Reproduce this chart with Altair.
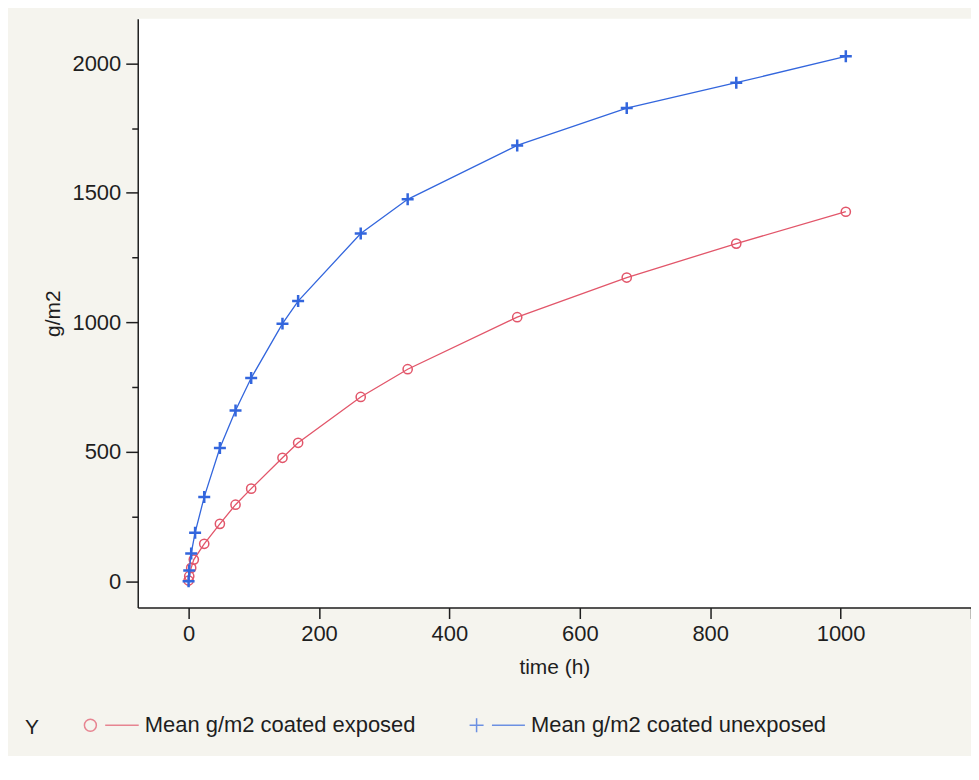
import altair as alt
import pandas as pd

# ---- data ----
series_names = ["Mean g/m2 coated exposed", "Mean g/m2 coated unexposed"]

time_exposed = [0, 1, 4, 8, 24, 48, 72, 96, 144, 168, 264, 336, 504, 672, 840, 1008]
g_exposed = [3, 20, 52, 84, 145, 222, 296, 358, 477, 535, 712, 819, 1020, 1173, 1304, 1427]

time_unexposed = [0, 1, 4, 10, 24, 48, 72, 96, 144, 168, 264, 336, 504, 672, 840, 1008]
g_unexposed = [0, 42, 108, 188, 326, 515, 660, 785, 995, 1082, 1343, 1475, 1683, 1827, 1925, 2027]

x_ticks = [0, 200, 400, 600, 800, 1000, 1200]
y_ticks = [0, 250, 500, 750, 1000, 1250, 1500, 1750, 2000]

RED = "#e2566a"
BLUE = "#3366dd"
TEXT = "#1e1e1e"
FONT = "Liberation Sans"

df = pd.concat([
    pd.DataFrame({"time": time_exposed, "g": g_exposed, "series": series_names[0]}),
    pd.DataFrame({"time": time_unexposed, "g": g_unexposed, "series": series_names[1]}),
], ignore_index=True)

# symbol paths (unit square -1..1)
PLUS = "M-1,0L1,0M0,-1L0,1"
LEG_CIRCLE = "M-0.944,0A0.214,0.214 0 1,1 -0.516,0A0.214,0.214 0 1,1 -0.944,0M-0.2,0L1,0"
LEG_PLUS = "M-0.98,0L-0.48,0M-0.73,-0.25L-0.73,0.25M-0.18,0L1,0"

x_enc = alt.X(
    "time:Q",
    title="time (h)",
    scale=alt.Scale(domain=[-78, 1200], nice=False, zero=False),
    axis=alt.Axis(
        values=x_ticks, format="d",
        labelExpr="datum.value >= 1200 ? '' : datum.label",
        tickSize=11, labelPadding=5, titlePadding=12, labelFlush=False,
    ),
)
y_enc = alt.Y(
    "g:Q",
    title="g/m2",
    scale=alt.Scale(domain=[-101, 2172], nice=False, zero=False),
    axis=alt.Axis(
        values=y_ticks, format="d",
        labelExpr="datum.value % 500 == 0 ? datum.label : ''",
        tickSize={"condition": {"test": "datum.value % 500 != 0", "value": 6}, "value": 12},
        labelPadding=5, titlePadding=8, labelFlush=False, labelOverlap=False,
    ),
)

base = alt.Chart(df)

red = base.transform_filter(alt.datum.series == series_names[0]).mark_line(
    color=RED, strokeWidth=1.3,
    point=alt.OverlayMarkDef(shape="circle", filled=False, size=85, strokeWidth=1.5, color=RED),
).encode(x=x_enc, y=y_enc)

blue = base.transform_filter(alt.datum.series == series_names[1]).mark_line(
    color=BLUE, strokeWidth=1.3,
    point=alt.OverlayMarkDef(shape=PLUS, filled=False, size=144, strokeWidth=2.5, color=BLUE),
).encode(x=x_enc, y=y_enc)

legend_def = alt.Legend(
    title="Y", orient="none", legendX=-113, legendY=679, direction="horizontal",
    titleOrient="left", titlePadding=42, titleFontSize=21, titleFontWeight="normal",
    titleColor=TEXT, titleFont=FONT, titleBaseline="line-top", titleLineHeight=23,
    labelFontSize=22, labelFont=FONT, labelColor=TEXT, labelLimit=500, labelOffset=5,
    symbolSize=3136, symbolStrokeWidth=1.5, columnPadding=50,
)

legend_layer = base.transform_filter("false").mark_point(filled=False, strokeWidth=1.5).encode(
    x=x_enc, y=y_enc,
    color=alt.Color("series:N", scale=alt.Scale(domain=series_names, range=[RED, BLUE]), legend=legend_def),
    shape=alt.Shape("series:N", scale=alt.Scale(domain=series_names, range=[LEG_CIRCLE, LEG_PLUS]), legend=legend_def),
)

chart = alt.layer(red, blue, legend_layer).properties(
    width=835, height=590,
    autosize=alt.AutoSizeParams(type="none"),
    padding={"left": 130, "top": 10, "right": 0, "bottom": 148},
    background="#f5f4ee",
).configure_view(
    stroke=None, fill="white",
).configure_axis(
    grid=False, domainColor=TEXT, domainWidth=1.5, tickColor=TEXT, tickWidth=1.5,
    labelFont=FONT, labelFontSize=22, labelColor=TEXT,
    titleFont=FONT, titleFontSize=21, titleFontWeight="normal", titleColor=TEXT,
)

chart.save("out.html", embed_options={"renderer": "svg", "actions": False})
